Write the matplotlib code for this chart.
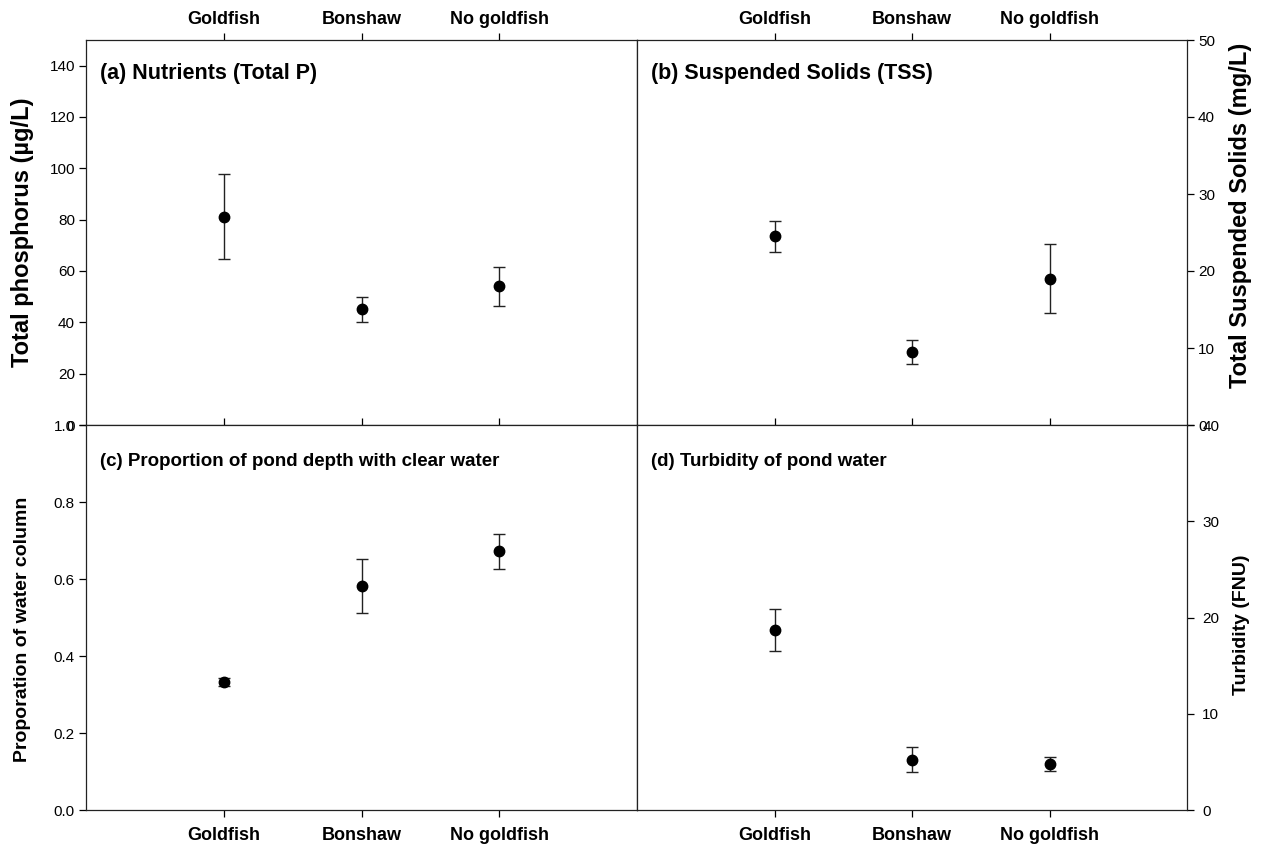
import matplotlib
matplotlib.use("Agg")
import matplotlib.pyplot as plt

plt.rcParams['font.family'] = ['Liberation Sans', 'DejaVu Sans']

categories = ["Goldfish", "Bonshaw", "No goldfish"]

tp_mean = [81.2, 45.0, 54.0]
tp_err = [16.6, 4.9, 7.5]

tss_mean = [24.5, 9.5, 19.0]
tss_err = [2.0, 1.6, 4.5]

clear_mean = [0.333, 0.582, 0.672]
clear_err = [0.011, 0.070, 0.045]

turb_mean = [18.7, 5.2, 4.8]
turb_err = [2.2, 1.3, 0.7]

W, H = 1261, 846
fig = plt.figure(figsize=(W / 100, H / 100), dpi=100)

x0, xm, x1 = 86 / W, 637 / W, 1187 / W
y_top, y_mid, y_bot = 1 - 40 / H, 1 - 425 / H, 1 - 810 / H

ax_a = fig.add_axes([x0, y_mid, xm - x0, y_top - y_mid])
ax_b = fig.add_axes([xm, y_mid, x1 - xm, y_top - y_mid])
ax_c = fig.add_axes([x0, y_bot, xm - x0, y_mid - y_bot])
ax_d = fig.add_axes([xm, y_bot, x1 - xm, y_mid - y_bot])

xpos = [1, 2, 3]


def draw(ax, mean, err, title, ylim, yticks, ylabel, top_row, right_side,
         fmt, label_y, label_size, title_size, title_y, ypad=3):
    ax.errorbar(xpos, mean, yerr=err, fmt='o', color='black', ecolor='#222222',
                markersize=7.5, elinewidth=1.0, capsize=4, capthick=1.0, zorder=3)
    ax.set_xlim(0, 4)
    ax.set_ylim(*ylim)
    ax.set_yticks(yticks)
    ax.set_yticklabels([fmt.format(v) for v in yticks])
    ax.set_xticks(xpos)
    ax.set_xticklabels(categories, fontweight='bold', fontsize=13)
    for s in ax.spines.values():
        s.set_linewidth(0.9)
        s.set_color('#222222')
    ax.tick_params(axis='x', direction='out', length=5, width=0.9,
                   top=True, bottom=True,
                   labeltop=top_row, labelbottom=not top_row,
                   pad=4 if top_row else 7)
    if right_side:
        ax.tick_params(axis='y', direction='out', length=5, width=0.9,
                       left=False, right=True, labelleft=False, labelright=True,
                       labelsize=11, pad=ypad)
        ax.yaxis.set_label_position('right')
        ax.set_ylabel(ylabel, fontsize=label_size, fontweight='bold', rotation=90)
        ax.yaxis.set_label_coords((1241 - 637) / 550, label_y)
    else:
        ax.tick_params(axis='y', direction='out', length=5, width=0.9,
                       left=True, right=False, labelsize=11, pad=ypad)
        ax.set_ylabel(ylabel, fontsize=label_size, fontweight='bold')
        ax.yaxis.set_label_coords((23 - 86) / 551, label_y)
    ax.yaxis.label.set_verticalalignment('center')
    ax.yaxis.label.set_horizontalalignment('center')
    ax.text(0.025, title_y, title, transform=ax.transAxes, fontsize=title_size,
            fontweight='bold', ha='left', va='center')


draw(ax_a, tp_mean, tp_err, "(a) Nutrients (Total P)", (0, 150),
     [0, 20, 40, 60, 80, 100, 120, 140], "Total phosphorus (µg/L)",
     True, False, "{:.0f}", 0.50, 17, 15.5, 0.912)
draw(ax_b, tss_mean, tss_err, "(b) Suspended Solids (TSS)", (0, 50),
     [0, 10, 20, 30, 40, 50], "Total Suspended Solids (mg/L)",
     True, True, "{:.0f}", 0.545, 17, 15.5, 0.912)
draw(ax_c, clear_mean, clear_err, "(c) Proportion of pond depth with clear water",
     (0, 1.0), [0.0, 0.2, 0.4, 0.6, 0.8, 1.0], "Proporation of water column",
     False, False, "{:.1f}", 0.47, 14, 13.5, 0.904)
draw(ax_d, turb_mean, turb_err, "(d) Turbidity of pond water", (0, 40),
     [0, 10, 20, 30, 40], "Turbidity (FNU)",
     False, True, "{:.0f}", 0.48, 14, 13.5, 0.904, ypad=6)

fig.savefig("out.png", dpi=100)
